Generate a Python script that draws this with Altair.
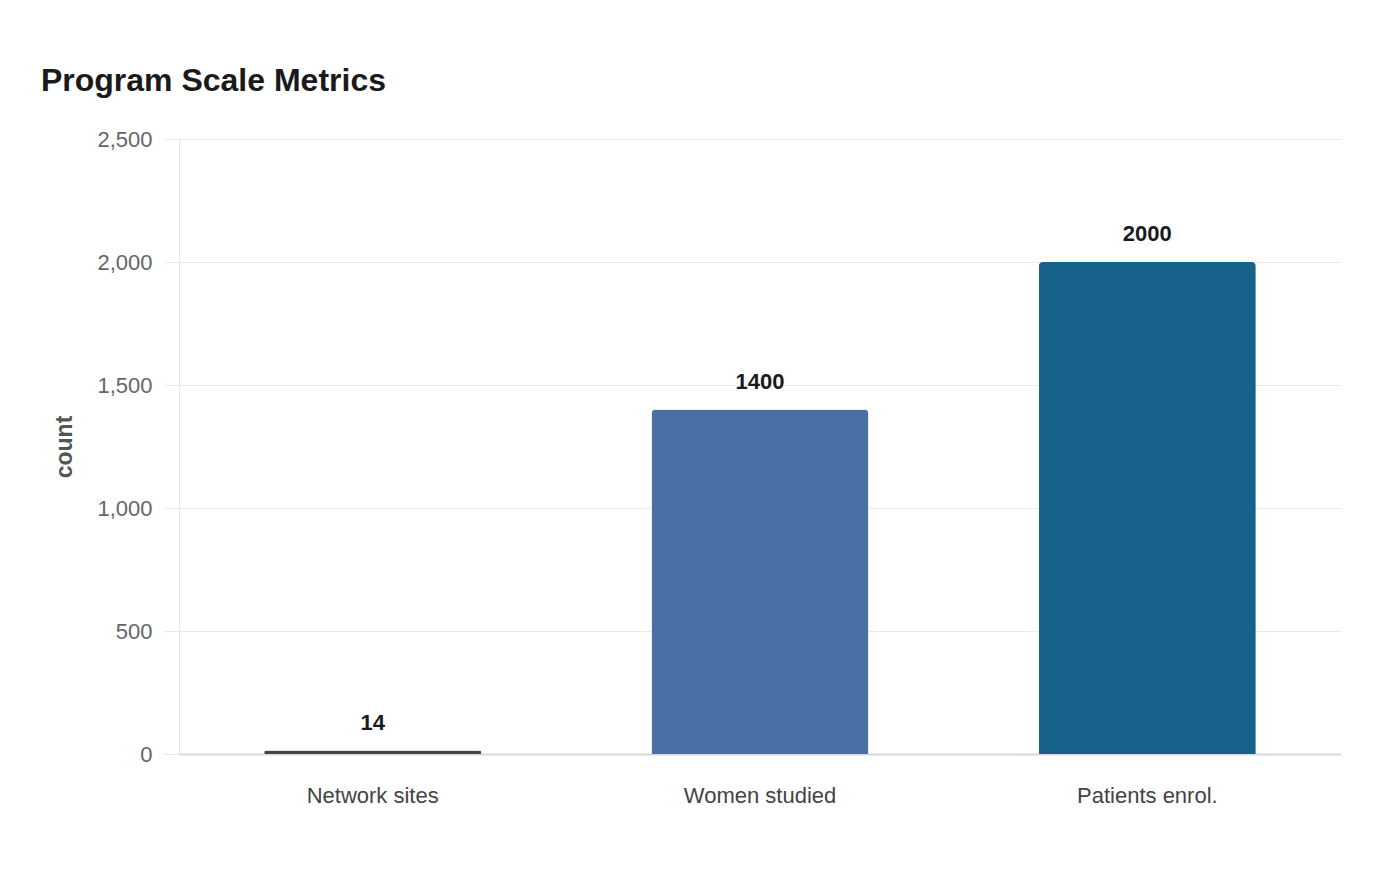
import altair as alt
import pandas as pd

categories = ["Network sites", "Women studied", "Patients enrol."]
values = [14, 1400, 2000]
colors = ["#444444", "#4a6fa5", "#17628a"]
y_ticks = [0, 500, 1000, 1500, 2000, 2500]

df = pd.DataFrame({"category": categories, "count": values, "color": colors})

x_enc = alt.X(
    "category:N",
    sort=categories,
    title=None,
    scale=alt.Scale(paddingInner=0.44, paddingOuter=0.22),
    axis=alt.Axis(
        labelAngle=0,
        labelFontSize=22,
        labelColor="#444444",
        labelFont="Liberation Sans",
        labelPadding=31,
        ticks=False,
        domainColor="#d9d9d9",
        domainWidth=2,
        grid=False,
    ),
)
y_enc = alt.Y(
    "count:Q",
    title="count",
    scale=alt.Scale(domain=[0, 2500], nice=False),
    axis=alt.Axis(
        values=y_ticks,
        format=",d",
        labelFontSize=22,
        labelColor="#666666",
        labelFont="Liberation Sans",
        labelPadding=12,
        tickSize=15,
        tickColor="#e8e8e8",
        domainColor="#e8e8e8",
        gridColor="#ebebeb",
        titleFontSize=23,
        titleColor="#555555",
        titleFont="Liberation Sans",
        titleFontWeight="bold",
        titlePadding=20,
    ),
)

bars = alt.Chart(df).mark_bar(cornerRadiusTopLeft=4, cornerRadiusTopRight=4).encode(
    x=x_enc,
    y=y_enc,
    color=alt.Color("color:N", scale=None),
)

labels = alt.Chart(df).mark_text(
    baseline="alphabetic", dy=-21, fontSize=22, fontWeight="bold",
    color="#1a1a1a", font="Liberation Sans"
).encode(
    x=alt.X("category:N", sort=categories),
    y=alt.Y("count:Q"),
    text=alt.Text("count:Q", format="d"),
)

chart = (bars + labels).properties(
    width=1162,
    height=615,
    title=alt.TitleParams(
        "Program Scale Metrics",
        anchor="start",
        fontSize=32,
        fontWeight="bold",
        color="#1a1a1a",
        font="Liberation Sans",
        offset=30,
        dx=-13,
    ),
    padding={"left": 32, "top": 57, "right": 44, "bottom": 10},
).configure_view(stroke=None)

chart.save("out.html", embed_options={"renderer": "svg", "actions": False})
